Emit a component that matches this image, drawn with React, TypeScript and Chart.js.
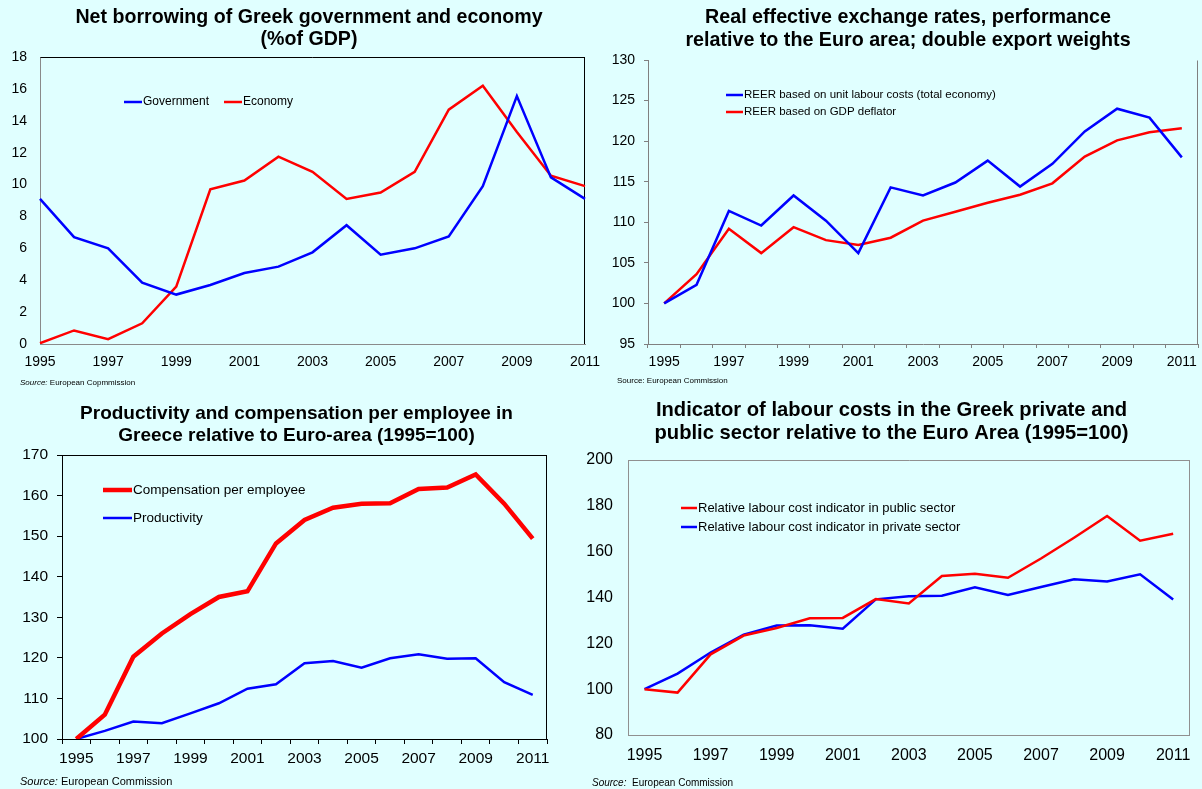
import React, { useEffect, useRef } from 'react';
import { Chart, registerables } from 'chart.js';

Chart.register(...registerables);

const FONT = '"Liberation Sans", Arial, Helvetica, sans-serif';
Chart.defaults.font.family = FONT;
Chart.defaults.color = '#000';

// ---------- data ----------
const years = ['1995', '1996', '1997', '1998', '1999', '2000', '2001', '2002', '2003', '2004', '2005', '2006', '2007', '2008', '2009', '2010', '2011'];

const governmentBorrowing = [9.1, 6.7, 6.0, 3.85, 3.1, 3.7, 4.45, 4.85, 5.75, 7.45, 5.6, 6.0, 6.75, 9.9, 15.55, 10.45, 9.1];
const economyBorrowing = [0.05, 0.85, 0.3, 1.3, 3.6, 9.7, 10.25, 11.75, 10.8, 9.1, 9.5, 10.8, 14.7, 16.2, 13.3, 10.55, 9.9];

const reerUnitLabourCosts = [100, 102.3, 111.4, 109.6, 113.3, 110.2, 106.2, 114.3, 113.3, 114.9, 117.6, 114.4, 117.2, 121.2, 124.0, 122.9, 118.0];
const reerGdpDeflator = [100, 103.6, 109.2, 106.2, 109.4, 107.8, 107.2, 108.1, 110.2, 111.3, 112.4, 113.4, 114.8, 118.1, 120.1, 121.1, 121.6];

const compensationPerEmployee = [100, 106, 120.3, 126, 130.8, 135, 136.4, 148.2, 154, 157, 158, 158.1, 161.6, 162, 165.2, 158, 149.4];
const productivity = [100, 102, 104.3, 103.9, 106.3, 108.8, 112.4, 113.5, 118.7, 119.2, 117.6, 119.9, 120.9, 119.8, 119.9, 114, 110.9];

const publicSectorCost = [100, 98.5, 115.2, 123.4, 126.7, 130.9, 131.1, 139.3, 137.4, 149.4, 150.4, 148.6, 157, 166.1, 175.6, 164.8, 167.8];
const privateSectorCost = [100, 106.8, 116, 123.8, 127.8, 127.9, 126.4, 139.2, 140.5, 140.8, 144.5, 141.1, 144.6, 148, 147, 150.1, 139.1];

const BLUE = '#0000FF';
const RED = '#FF0000';

// ---------- plugins ----------
const framePlugin = {
  id: 'frame',
  beforeDatasetsDraw(chart: any, _args: any, opts: any) {
    if (!opts || !opts.sides) return;
    const { left, top, right, bottom } = chart.chartArea;
    const ctx = chart.ctx;
    const L = Math.round(left) + 0.5;
    const R = Math.round(right) - 0.5;
    const T = Math.round(top) + 0.5;
    const B = Math.round(bottom) - 0.5;
    ctx.save();
    ctx.strokeStyle = opts.color;
    ctx.lineWidth = 1;
    ctx.beginPath();
    for (const s of opts.sides) {
      if (s === 'top') { ctx.moveTo(L, T); ctx.lineTo(R + 0.5, T); }
      if (s === 'right') { ctx.moveTo(R, T); ctx.lineTo(R, B + 0.5); }
      if (s === 'bottom') { ctx.moveTo(L, B); ctx.lineTo(R + 0.5, B); }
      if (s === 'left') { ctx.moveTo(L, T); ctx.lineTo(L, B + 0.5); }
    }
    ctx.stroke();
    ctx.restore();
  },
};

const inlineLegendPlugin = {
  id: 'inlineLegend',
  afterDatasetsDraw(chart: any, _args: any, opts: any) {
    if (!opts || !opts.items) return;
    const ctx = chart.ctx;
    ctx.save();
    ctx.font = `${opts.size}px ${FONT}`;
    ctx.textBaseline = 'middle';
    ctx.textAlign = 'left';
    chart.data.datasets.forEach((ds: any, i: number) => {
      const it = opts.items[i];
      if (!it) return;
      ctx.strokeStyle = ds.borderColor;
      ctx.lineWidth = ds.borderWidth;
      ctx.beginPath();
      ctx.moveTo(it.x1, it.y);
      ctx.lineTo(it.x2, it.y);
      ctx.stroke();
      ctx.fillStyle = '#000';
      ctx.fillText(ds.label, it.x2 + 1, it.y);
    });
    ctx.restore();
  },
};

// ---------- helpers ----------
function lineDs(label: string, data: number[], color: string, width: number) {
  return {
    label,
    data,
    borderColor: color,
    backgroundColor: color,
    borderWidth: width,
    pointRadius: 0,
    pointHoverRadius: 0,
    tension: 0,
    fill: false,
  };
}

function xAxis(o: { offset: boolean; tickLen: number; tickColor: string; size: number; pad: number; height: number; border: string }) {
  return {
    type: 'category',
    offset: o.offset,
    grid: {
      display: o.tickLen > 0,
      offset: o.offset,
      drawOnChartArea: false,
      drawTicks: o.tickLen > 0,
      tickLength: o.tickLen,
      color: o.tickColor,
    },
    border: { display: true, color: o.border, width: 1 },
    ticks: {
      autoSkip: false,
      maxRotation: 0,
      minRotation: 0,
      padding: o.pad,
      color: '#000',
      font: { size: o.size, family: FONT },
      callback: (_v: any, index: number) => (index % 2 === 0 ? years[index] : ''),
    },
    afterFit(scale: any) { scale.height = o.height; },
  };
}

function yAxis(o: { min: number; max: number; step: number; tickLen: number; tickColor: string; size: number; pad: number; width: number; border: string }) {
  return {
    type: 'linear',
    position: 'left',
    min: o.min,
    max: o.max,
    grid: {
      display: o.tickLen > 0,
      drawOnChartArea: false,
      drawTicks: o.tickLen > 0,
      tickLength: o.tickLen,
      color: o.tickColor,
    },
    border: { display: true, color: o.border, width: 1 },
    ticks: { stepSize: o.step, padding: o.pad, color: '#000', font: { size: o.size, family: FONT } },
    afterFit(scale: any) { scale.width = o.width; },
  };
}

function spacer(w: number) {
  return {
    type: 'linear',
    position: 'right',
    display: true,
    grid: { display: false, drawTicks: false },
    border: { display: false },
    ticks: { display: false },
    afterFit(scale: any) { scale.width = w; },
  };
}

function titleOpts(lines: string[], size: number, lh: number, c1: number, chartTop: number) {
  const t = c1 - lh / 2;
  const b = chartTop - t - 2 * lh;
  return {
    display: true,
    text: lines,
    color: '#000',
    font: { family: FONT, size, weight: 'bold', lineHeight: lh / size },
    padding: { top: t, bottom: b },
  };
}

function baseOptions(extra: any) {
  return {
    responsive: false,
    maintainAspectRatio: false,
    animation: false,
    events: [],
    layout: { padding: 0 },
    ...extra,
  };
}

// ---------- panel configs ----------
// Panel 1: canvas (0,0) 618x392, chart area L40 T57 R585 B344
const cfg1 = {
  type: 'line',
  data: {
    labels: years,
    datasets: [
      lineDs('Government', governmentBorrowing, BLUE, 2.5),
      lineDs('Economy', economyBorrowing, RED, 2.5),
    ],
  },
  options: baseOptions({
    scales: {
      x: xAxis({ offset: false, tickLen: 0, tickColor: '#888', size: 14, pad: 9.6, height: 392 - 344, border: '#8a8a8a' }),
      y: yAxis({ min: 0, max: 18, step: 2, tickLen: 0, tickColor: '#888', size: 14, pad: 13, width: 40, border: '#8a8a8a' }),
      yR: spacer(618 - 585),
    },
    plugins: {
      legend: { display: false },
      tooltip: { enabled: false },
      title: titleOpts(['Net borrowing of Greek government and economy', '(%of GDP)'], 19.6, 22.5, 17.5, 57),
      frame: { sides: ['top', 'right'], color: '#000' },
      inlineLegend: {
        size: 12,
        items: [
          { x1: 124, x2: 142, y: 102 },
          { x1: 224, x2: 242, y: 102 },
        ],
      },
    },
  }),
  plugins: [framePlugin, inlineLegendPlugin],
};

// Panel 2: canvas (600,0) 616x392, chart area L48 T60 R598 B344
const cfg2 = {
  type: 'line',
  data: {
    labels: years,
    datasets: [
      lineDs('REER based on unit labour costs (total economy)', reerUnitLabourCosts, BLUE, 2.5),
      lineDs('REER based on GDP deflator', reerGdpDeflator, RED, 2.5),
    ],
  },
  options: baseOptions({
    scales: {
      x: xAxis({ offset: true, tickLen: 4, tickColor: '#808080', size: 14, pad: 5.6, height: 392 - 344, border: '#808080' }),
      y: yAxis({ min: 95, max: 130, step: 5, tickLen: 4, tickColor: '#808080', size: 14, pad: 9, width: 48, border: '#808080' }),
      yR: spacer(616 - 598),
    },
    plugins: {
      legend: { display: false },
      tooltip: { enabled: false },
      title: titleOpts(['Real effective exchange rates, performance', 'relative to the Euro area; double export weights'], 19.7, 22.5, 18, 60),
      frame: { sides: ['right'], color: '#808080' },
      inlineLegend: {
        size: 11.5,
        items: [
          { x1: 126, x2: 143, y: 95 },
          { x1: 126, x2: 143, y: 112 },
        ],
      },
    },
  }),
  plugins: [framePlugin, inlineLegendPlugin],
};

// Panel 3: canvas (0,392) 593x397, chart area L62 T63 R547 B347
const cfg3 = {
  type: 'line',
  data: {
    labels: years,
    datasets: [
      lineDs('Compensation per employee', compensationPerEmployee, RED, 4.5),
      lineDs('Productivity', productivity, BLUE, 2.5),
    ],
  },
  options: baseOptions({
    scales: {
      x: xAxis({ offset: true, tickLen: 5, tickColor: '#000', size: 15.5, pad: 5.7, height: 397 - 347, border: '#000' }),
      y: yAxis({ min: 100, max: 170, step: 10, tickLen: 5, tickColor: '#000', size: 15.5, pad: 9, width: 62, border: '#000' }),
      yR: spacer(593 - 547),
    },
    plugins: {
      legend: { display: false },
      tooltip: { enabled: false },
      title: titleOpts(['Productivity and compensation per employee in', 'Greece relative to Euro-area (1995=100)'], 19, 22, 22, 63),
      frame: { sides: ['top', 'right'], color: '#000' },
      inlineLegend: {
        size: 13.5,
        items: [
          { x1: 103, x2: 132, y: 98 },
          { x1: 103, x2: 132, y: 126 },
        ],
      },
    },
  }),
  plugins: [framePlugin, inlineLegendPlugin],
};

// Panel 4: canvas (581,392) 621x397, chart area L47 T68 R613 B343
const cfg4 = {
  type: 'line',
  data: {
    labels: years,
    datasets: [
      lineDs('Relative labour cost indicator in public sector', publicSectorCost, RED, 2.5),
      lineDs('Relative labour cost indicator in private sector', privateSectorCost, BLUE, 2.5),
    ],
  },
  options: baseOptions({
    scales: {
      x: xAxis({ offset: true, tickLen: 0, tickColor: '#909090', size: 16, pad: 11.4, height: 397 - 343, border: '#909090' }),
      y: yAxis({ min: 80, max: 200, step: 20, tickLen: 0, tickColor: '#909090', size: 16, pad: 15, width: 47, border: '#909090' }),
      yR: spacer(621 - 613),
    },
    plugins: {
      legend: { display: false },
      tooltip: { enabled: false },
      title: titleOpts(['Indicator of labour costs in the Greek private and', 'public sector relative to the Euro Area (1995=100)'], 20.2, 23, 18.5, 68),
      frame: { sides: ['top', 'right'], color: '#909090' },
      inlineLegend: {
        size: 13,
        items: [
          { x1: 100, x2: 116, y: 116 },
          { x1: 100, x2: 116, y: 135 },
        ],
      },
    },
  }),
  plugins: [framePlugin, inlineLegendPlugin],
};

function Panel({ left, top, width, height, config }: { left: number; top: number; width: number; height: number; config: any }) {
  const ref = useRef<HTMLCanvasElement>(null);
  useEffect(() => {
    const chart = new Chart(ref.current as HTMLCanvasElement, config);
    return () => chart.destroy();
  }, [config]);
  return (
    <canvas
      ref={ref}
      width={width}
      height={height}
      style={{ position: 'absolute', left, top, width, height, display: 'block' }}
    />
  );
}

function Note({ left, top, size, italic, text }: { left: number; top: number; size: number; italic: boolean; text: string }) {
  return (
    <div
      style={{
        position: 'absolute',
        left,
        top: top - size * 0.6,
        fontFamily: FONT,
        fontSize: size,
        lineHeight: `${size * 1.2}px`,
        color: '#000',
        whiteSpace: 'pre',
      }}
    >
      <span style={{ fontStyle: italic ? 'italic' : 'normal' }}>Source:</span>
      {text}
    </div>
  );
}

export default function App() {
  return (
    <div
      style={{
        position: 'absolute',
        left: 0,
        top: 0,
        width: 1202,
        height: 789,
        background: '#E0FFFF',
        overflow: 'hidden',
      }}
    >
      <Panel left={0} top={0} width={618} height={392} config={cfg1} />
      <Panel left={600} top={0} width={616} height={392} config={cfg2} />
      <Panel left={0} top={392} width={593} height={397} config={cfg3} />
      <Panel left={581} top={392} width={621} height={397} config={cfg4} />
      <Note left={20} top={383} size={8} italic={true} text=" European Copmmission" />
      <Note left={617} top={381} size={8} italic={false} text=" European Commission" />
      <Note left={20} top={782} size={11} italic={true} text=" European Commission" />
      <Note left={592} top={783} size={10} italic={true} text="  European Commission" />
    </div>
  );
}
